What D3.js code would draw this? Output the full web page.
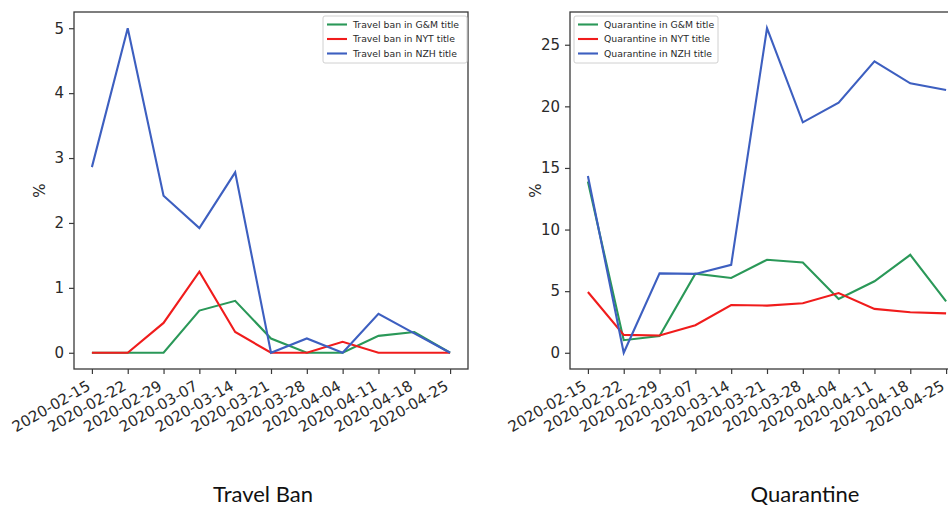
<!DOCTYPE html>
<html>
<head>
<meta charset="utf-8">
<script src="https://cdn.jsdelivr.net/npm/d3@7"></script>
<style>
  html, body { margin: 0; padding: 0; background: #fff; overflow: hidden; }
  svg { display: block; }
</style>
</head>
<body>
<svg id="chart" width="948" height="506"></svg>
<script>
// Weekly share (%) of headlines mentioning each term
const weeks = ["2020-02-15", "2020-02-22", "2020-02-29", "2020-03-07", "2020-03-14", "2020-03-21",
               "2020-03-28", "2020-04-04", "2020-04-11", "2020-04-18", "2020-04-25"];

const travelGM  = [0, 0, 0, 0.65, 0.80, 0.22, 0, 0, 0.26, 0.32, 0];
const travelNYT = [0, 0, 0.46, 1.25, 0.32, 0, 0, 0.17, 0, 0, 0];
const travelNZH = [2.86, 5.0, 2.42, 1.92, 2.78, 0, 0.22, 0, 0.60, 0.30, 0];

const quarGM  = [13.9, 1.02, 1.35, 6.42, 6.07, 7.55, 7.33, 4.37, 5.80, 7.95, 4.18];
const quarNYT = [4.93, 1.45, 1.40, 2.24, 3.88, 3.83, 4.02, 4.85, 3.56, 3.29, 3.20];
const quarNZH = [14.35, 0, 6.44, 6.40, 7.14, 26.34, 18.70, 20.30, 23.65, 21.87, 21.33];

const travelTicks = [0, 1, 2, 3, 4, 5];
const quarTicks = [0, 5, 10, 15, 20, 25];

const colors = { gm: "#2a9858", nyt: "#f01c1c", nzh: "#3d5fc0" };

const svg = d3.select("#chart");
const tickFont = "'DejaVu Sans', sans-serif";

function panel(opts) {
  const { left, width, top, bottom, series, yTicks, title, titleX, legendX } = opts;
  const g = svg.append("g");

  const allVals = series.flatMap(s => s.values);
  const ymin = d3.min(allVals), ymax = d3.max(allVals);
  const pad = (ymax - ymin) * 0.05;
  const x = d3.scaleLinear().domain([-0.5, weeks.length - 0.5]).range([left, left + width]);
  const y = d3.scaleLinear().domain([ymin - pad, ymax + pad]).range([bottom, top]);

  // series lines
  const line = d3.line().x((d, i) => x(i)).y(d => y(d));
  series.forEach(s => {
    g.append("path")
      .datum(s.values)
      .attr("fill", "none")
      .attr("stroke", s.color)
      .attr("stroke-width", 2.1)
      .attr("stroke-linejoin", "miter")
      .attr("d", line);
  });

  // frame
  g.append("rect")
    .attr("x", left).attr("y", top)
    .attr("width", width).attr("height", bottom - top)
    .attr("fill", "none").attr("stroke", "#3a3a3a").attr("stroke-width", 1.3);

  // y axis
  const yAxis = d3.axisLeft(y).tickValues(yTicks).tickSize(5).tickPadding(5).tickFormat(d3.format("d"));
  const ya = g.append("g").attr("transform", `translate(${left},0)`).call(yAxis);
  ya.select(".domain").remove();
  ya.selectAll(".tick line").attr("stroke", "#3a3a3a").attr("stroke-width", 1.2);
  ya.selectAll(".tick text")
    .attr("font-family", tickFont).attr("font-size", 15).attr("fill", "#2a2a2a");

  // x axis
  const xAxis = d3.axisBottom(x).tickValues(d3.range(weeks.length)).tickSize(5).tickFormat(i => weeks[i]);
  const xa = g.append("g").attr("transform", `translate(0,${bottom})`).call(xAxis);
  xa.select(".domain").remove();
  xa.selectAll(".tick line").attr("stroke", "#3a3a3a").attr("stroke-width", 1.2);
  xa.selectAll(".tick text")
    .attr("font-family", tickFont).attr("font-size", 15).attr("fill", "#2a2a2a")
    .attr("text-anchor", "end")
    .attr("y", 0).attr("dy", 0)
    .attr("transform", "translate(-1,20) rotate(-30)");

  // y label
  g.append("text")
    .attr("transform", `translate(${left - 29},${(top + bottom) / 2}) rotate(-90)`)
    .attr("text-anchor", "middle")
    .attr("font-family", tickFont).attr("font-size", 15).attr("fill", "#2a2a2a")
    .text("%");

  // legend
  const lg = g.append("g").attr("transform", `translate(${legendX},16)`);
  lg.append("rect")
    .attr("width", 144).attr("height", 47).attr("rx", 2)
    .attr("fill", "#fff").attr("fill-opacity", 0.85)
    .attr("stroke", "#d0d0d0").attr("stroke-width", 1);
  series.forEach((s, i) => {
    const yy = 8.5 + i * 14.5;
    lg.append("line")
      .attr("x1", 4).attr("x2", 24).attr("y1", yy).attr("y2", yy)
      .attr("stroke", s.color).attr("stroke-width", 2.1);
    lg.append("text")
      .attr("x", 30).attr("y", yy).attr("dy", "0.35em")
      .attr("font-family", tickFont).attr("font-size", 9.3).attr("fill", "#2a2a2a")
      .text(s.label);
  });

  // panel caption
  svg.append("text")
    .attr("x", titleX).attr("y", 502)
    .attr("text-anchor", "middle")
    .attr("font-family", "Lato, 'Open Sans', sans-serif").attr("font-size", 22).attr("fill", "#111")
    .text(title);
}

panel({
  left: 74, width: 394, top: 12, bottom: 369,
  series: [
    { values: travelGM, color: colors.gm, label: "Travel ban in G&M title" },
    { values: travelNYT, color: colors.nyt, label: "Travel ban in NYT title" },
    { values: travelNZH, color: colors.nzh, label: "Travel ban in NZH title" }
  ],
  yTicks: travelTicks, title: "Travel Ban", titleX: 263, legendX: 323
});

panel({
  left: 570, width: 394, top: 12, bottom: 369,
  series: [
    { values: quarGM, color: colors.gm, label: "Quarantine in G&M title" },
    { values: quarNYT, color: colors.nyt, label: "Quarantine in NYT title" },
    { values: quarNZH, color: colors.nzh, label: "Quarantine in NZH title" }
  ],
  yTicks: quarTicks, title: "Quarantine", titleX: 805, legendX: 574
});
</script>
</body>
</html>
